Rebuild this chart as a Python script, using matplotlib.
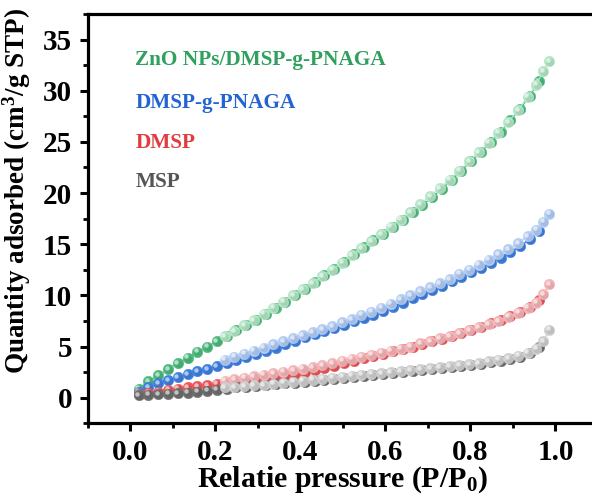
import matplotlib
matplotlib.use("Agg")
import matplotlib.pyplot as plt
from matplotlib.ticker import MultipleLocator
from matplotlib.transforms import offset_copy

plt.rcParams['font.family'] = ['Liberation Serif', 'DejaVu Serif']
plt.rcParams['font.weight'] = 'bold'
plt.rcParams['mathtext.default'] = 'regular'

# adsorption branch (relative pressure)
p_ads = [0.020, 0.043, 0.066, 0.089, 0.112, 0.135, 0.158, 0.181, 0.204, 0.227,
         0.250, 0.273, 0.296, 0.319, 0.342, 0.365, 0.388, 0.411, 0.434, 0.457,
         0.480, 0.503, 0.526, 0.549, 0.572, 0.595, 0.618, 0.641, 0.664, 0.687,
         0.710, 0.733, 0.756, 0.779, 0.802, 0.825, 0.848, 0.871, 0.894, 0.917,
         0.940, 0.961]
# desorption branch
p_des = [0.985, 0.972, 0.955, 0.935, 0.912, 0.889, 0.866, 0.843, 0.820, 0.797,
         0.774, 0.751, 0.728, 0.705, 0.682, 0.659, 0.636, 0.613, 0.590, 0.567,
         0.544, 0.521, 0.498, 0.475, 0.452, 0.429, 0.406, 0.383, 0.360, 0.337,
         0.314, 0.291, 0.268, 0.245, 0.222]

zno_ads = [0.9, 1.6, 2.2, 2.8, 3.4, 3.9, 4.5, 5.0, 5.5, 6.0,
           6.6, 7.1, 7.6, 8.2, 8.8, 9.4, 10.0, 10.6, 11.3, 12.0,
           12.6, 13.3, 14.0, 14.7, 15.4, 16.0, 16.7, 17.4, 18.1, 18.8,
           19.6, 20.4, 21.3, 22.2, 23.1, 24.0, 25.0, 26.0, 27.1, 28.2,
           29.5, 30.9]
zno_des = [32.9, 31.9, 30.6, 29.4, 28.1, 26.9, 25.9, 24.9, 24.0, 23.1,
           22.2, 21.3, 20.5, 19.7, 18.9, 18.1, 17.4, 16.7, 16.0, 15.3,
           14.6, 13.9, 13.2, 12.5, 11.9, 11.2, 10.6, 10.0, 9.4, 8.8,
           8.2, 7.6, 7.1, 6.5, 6.0]

pnaga_ads = [0.6, 1.0, 1.4, 1.7, 2.0, 2.3, 2.6, 2.8, 3.1, 3.4,
             3.7, 4.0, 4.3, 4.6, 4.9, 5.2, 5.5, 5.9, 6.2, 6.5,
             6.8, 7.1, 7.5, 7.8, 8.1, 8.5, 8.9, 9.3, 9.7, 10.1,
             10.5, 10.9, 11.4, 11.8, 12.3, 12.7, 13.2, 13.7, 14.2, 14.8,
             15.5, 16.3]
pnaga_des = [18.0, 17.2, 16.4, 15.8, 15.1, 14.5, 14.0, 13.5, 13.0, 12.5,
             12.1, 11.6, 11.2, 10.8, 10.4, 10.0, 9.6, 9.2, 8.8, 8.4,
             8.1, 7.7, 7.4, 7.0, 6.7, 6.4, 6.1, 5.8, 5.5, 5.2,
             4.9, 4.6, 4.3, 4.0, 3.7]

dmsp_ads = [0.4, 0.5, 0.6, 0.8, 0.9, 1.0, 1.1, 1.2, 1.35, 1.5,
            1.6, 1.75, 1.85, 1.95, 2.05, 2.2, 2.35, 2.5, 2.7, 2.9,
            3.1, 3.4, 3.6, 3.85, 4.1, 4.3, 4.55, 4.75, 5.0, 5.25,
            5.5, 5.75, 6.0, 6.3, 6.6, 6.9, 7.3, 7.6, 8.0, 8.4,
            8.9, 9.5]
dmsp_des = [11.1, 10.1, 9.3, 8.8, 8.3, 7.9, 7.5, 7.2, 6.9, 6.6,
            6.3, 6.0, 5.8, 5.5, 5.3, 5.0, 4.8, 4.6, 4.4, 4.2,
            4.0, 3.8, 3.6, 3.4, 3.2, 3.0, 2.85, 2.7, 2.55, 2.4,
            2.25, 2.1, 1.95, 1.8, 1.65]

msp_ads = [0.25, 0.3, 0.35, 0.4, 0.45, 0.5, 0.6, 0.7, 0.8, 0.9,
           1.0, 1.05, 1.1, 1.2, 1.3, 1.4, 1.45, 1.55, 1.65, 1.75,
           1.85, 1.95, 2.05, 2.15, 2.2, 2.3, 2.4, 2.5, 2.6, 2.7,
           2.8, 2.9, 3.0, 3.1, 3.2, 3.3, 3.45, 3.6, 3.8, 4.0,
           4.4, 5.0]
msp_des = [6.66, 5.5, 4.8, 4.4, 4.1, 3.85, 3.7, 3.55, 3.4, 3.3,
           3.2, 3.1, 3.0, 2.9, 2.8, 2.7, 2.6, 2.5, 2.4, 2.35,
           2.25, 2.15, 2.05, 1.95, 1.85, 1.75, 1.65, 1.55, 1.45, 1.35,
           1.25, 1.2, 1.1, 1.05, 1.0]

names = ['ZnO NPs/DMSP-g-PNAGA', 'DMSP-g-PNAGA', 'DMSP', 'MSP']
ads = [zno_ads, pnaga_ads, dmsp_ads, msp_ads]
des = [zno_des, pnaga_des, dmsp_des, msp_des]
dark = ['#4cba7c', '#3f7fe0', '#e8585c', '#6e6e6e']
pale = ['#b3e6c6', '#b4cdf5', '#f5b5b8', '#cfcfcf']
text_col = ['#2fa05e', '#2463d2', '#e23b40', '#555555']
label_y = [33.0, 28.8, 24.9, 21.1]

fig = plt.figure(figsize=(5.92, 4.98), dpi=100)
ax = fig.add_axes([0.148, 0.150, 0.862, 0.822])

# small shifted copies of the data give each ball a highlight and a shadow
hl = offset_copy(ax.transData, fig=fig, x=-1.4, y=1.4, units='dots')
sh = offset_copy(ax.transData, fig=fig, x=0.8, y=-0.8, units='dots')


def balls(x, y, c, z):
    ax.plot(x, y, '-', color=c, lw=0.8, zorder=z)
    ax.plot(x, y, 'o', ms=7.6, mfc=c, mec=c, mew=0.3, zorder=z + 0.1)
    ax.plot(x, y, 'o', ms=5.5, mfc='black', mec='none', alpha=0.08,
            transform=sh, zorder=z + 0.15)
    ax.plot(x, y, 'o', ms=3.2, mfc='white', mec='none', alpha=0.6,
            transform=hl, zorder=z + 0.2)


for i in range(4):
    z = 2 + i
    balls(p_ads, ads[i], dark[i], z)
    balls(p_des, des[i], pale[i], z + 0.5)
    ax.text(0.0125, label_y[i], names[i], color=text_col[i], fontsize=15.3,
            fontweight='bold', va='center', ha='left')

ax.set_xlim(-0.1, 1.1)
ax.set_ylim(-2.5, 37.5)
ax.xaxis.set_minor_locator(MultipleLocator(0.1))
ax.yaxis.set_major_locator(MultipleLocator(5))
ax.yaxis.set_minor_locator(MultipleLocator(2.5))
ax.set_xticks([0.0, 0.2, 0.4, 0.6, 0.8, 1.0])
ax.set_xticklabels(['0.0', '0.2', '0.4', '0.6', '0.8', '1.0'])

for s in ax.spines.values():
    s.set_linewidth(2.3)
ax.tick_params(which='major', direction='out', length=6, width=2.2,
               labelsize=21, pad=5)
ax.tick_params(which='minor', direction='out', length=3.5, width=2.0)
ax.tick_params(top=False, right=False, which='both')

ax.set_xlabel('Relatie pressure (P/P$_0$)', fontsize=21.5, fontweight='bold',
              labelpad=-1)
ax.set_ylabel('Quantity adsorbed (cm$^3$/g STP)', fontsize=19.5,
              fontweight='bold')
ax.yaxis.set_label_coords(-0.108, 0.568)

fig.savefig('out.png', dpi=100)
